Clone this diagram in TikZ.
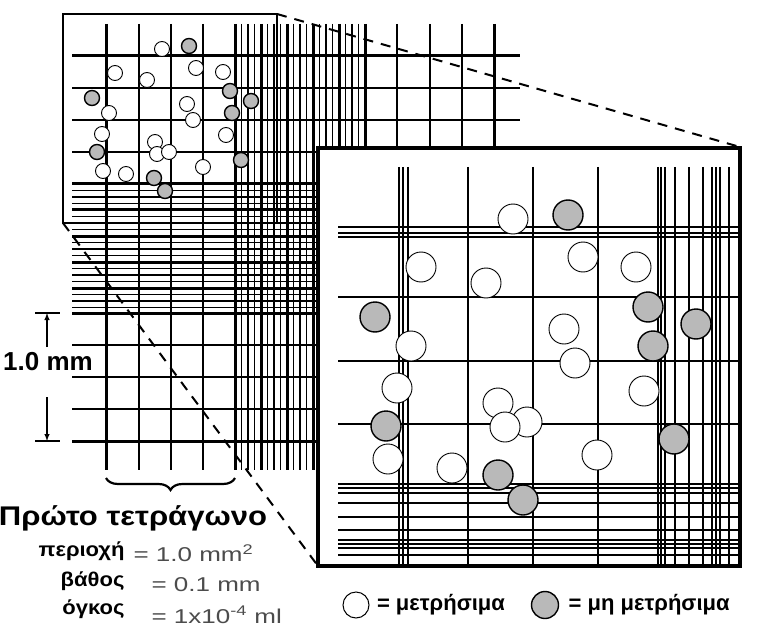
\documentclass[tikz,border=0pt]{standalone}
\usepackage{fontspec}
\usepackage{graphicx}
\setmainfont{Liberation Sans}
\usetikzlibrary{decorations.pathreplacing}
\usetikzlibrary{arrows}

\tikzset{
  thinrule/.style={line width=1.1pt},
  thickrule/.style={line width=3pt},
  cellok/.style={draw, circle, fill=white, line width=0.9pt, inner sep=0pt},
  celldead/.style={draw, circle, fill=gray!55, line width=1.4pt, inner sep=0pt},
  smallcell/.style={minimum size=15pt},
  bigcell/.style={minimum size=30pt},
}

\begin{document}
\begin{tikzpicture}[x=1pt, y=-1pt]
  \useasboundingbox (0,0) rectangle (759,636);

  % Upper horizontal rules
  \draw[thickrule] (72,56) -- (520,56);
  \foreach \yy in {88,120} \draw[thinrule] (72,\yy) -- (520,\yy);
  \draw[thinrule] (72,152) -- (365,152);
  % Dense horizontal band
  \foreach \yy in {184,210,236,262,288,313} \draw[thickrule] (72,\yy) -- (365,\yy);
  \foreach \yy in {184,210,236,262,288} {
    \foreach \dd in {6.5,13,19.5} \draw[thinrule] (72,\yy+\dd) -- (365,\yy+\dd);
  }
  % First square
  \foreach \yy in {345,377,409} \draw[thinrule] (72,\yy) -- (365,\yy);
  \draw[thickrule] (72,441) -- (365,441);

  % Vertical rules
  \foreach \xx in {106,235} \draw[thickrule] (\xx,24) -- (\xx,470);
  \foreach \xx in {139,171,203} \draw[thinrule] (\xx,24) -- (\xx,470);
  \foreach \xx in {261,287,313,339,365} \draw[thickrule] (\xx,24) -- (\xx,470);
  \foreach \xx in {235,261,287,313,339} {
    \foreach \dd in {6.5,13,19.5} \draw[thinrule] (\xx+\dd,24) -- (\xx+\dd,470);
  }
  \foreach \xx in {397,430,462} \draw[thinrule] (\xx,24) -- (\xx,148);
  \draw[thickrule] (494,24) -- (494,148);

  % Small frame and zoom lines
  \coordinate (sTL) at (63,14);
  \coordinate (sTR) at (277,14);
  \coordinate (sBL) at (63,223);
  \draw[line width=2.6pt] (sTL) rectangle (277,223);
  \draw[line width=2pt, dash pattern=on 10pt off 8pt] (sTR) -- (740,147);
  \draw[line width=2pt, dash pattern=on 10pt off 8pt] (sBL) -- (318,566);

  % Cells in the small frame
  \foreach \cx/\cy [count=\i] in {162/49,115/73,147/80,196/68,223/72,187/104,109/113,193/120,102/134,155/142,157/154,169/152,126/174,103/171,203/167,226/135}
    \node[cellok, smallcell] (so\i) at (\cx,\cy) {};
  \foreach \cx/\cy [count=\i] in {189/46,92/98,230/91,251/101,232/113,97/152,241/160,154/178,165/191}
    \node[celldead, smallcell] (sd\i) at (\cx,\cy) {};

  % Zoomed frame
  \draw[line width=3.6pt, fill=white] (318,148) rectangle (740,566);
  \foreach \xx in {399,403,408,468,533,598,658,661,665,675,689,703,712,716,720,729}
    \draw[thinrule] (\xx,167) -- (\xx,565);
  \foreach \yy in {227,233,237,297,361,424,484,488,493,503,517,530,540,544,548,555}
    \draw[thinrule] (338,\yy) -- (738,\yy);

  % Cells in the zoomed frame
  \foreach \cx/\cy [count=\i] in {513/219,421/267,486/283,583/257,636/267,411/346,564/329,575/363,397/388,644/391,498/403,527/422,505/427,388/459,452/468,597/455}
    \node[cellok, bigcell] (bo\i) at (\cx,\cy) {};
  \foreach \cx/\cy [count=\i] in {568/215,375/317,648/307,696/324,653/346,386/426,674/439,498/475,523/500}
    \node[celldead, bigcell] (bd\i) at (\cx,\cy) {};

  % Scale marker
  \coordinate (mTop) at (47,313);
  \coordinate (mBot) at (47,441);
  \draw[line width=1.8pt] (35,313) -- (60,313);
  \draw[line width=1.8pt] (35,441) -- (60,441);
  \node[font=\bfseries\fontsize{26}{28}\selectfont, fill=white, inner sep=1pt] (mm) at (48,362) {1.0 mm};
  \draw[->, >=latex, line width=1.4pt] (47,347) -- (mTop);
  \draw[->, >=latex, line width=1.4pt] (47,397) -- (mBot);

  % Brace and labels
  \draw[decorate, decoration={brace, amplitude=12pt}, line width=2.2pt] (235,478) -- (106,478);
  \node[font=\bfseries\fontsize{27}{29}\selectfont] (first) at (133,518) {\scalebox{1.15}[1]{Πρώτο τετράγωνο}};
  \node[font=\bfseries\fontsize{20}{22}\selectfont, anchor=east] (area) at (128,551) {\scalebox{1.1}[1]{περιοχή}};
  \node[font=\fontsize{20}{22}\selectfont, anchor=west, text=black!70] (areav) at (130,553) {\scalebox{1.3}[1]{= 1.0 mm\textsuperscript{2}}};
  \node[font=\bfseries\fontsize{20}{22}\selectfont, anchor=east] (depth) at (128,581) {\scalebox{1.1}[1]{βάθος}};
  \node[font=\fontsize{20}{22}\selectfont, anchor=west, text=black!70] (depthv) at (148,585) {\scalebox{1.3}[1]{= 0.1 mm}};
  \node[font=\bfseries\fontsize{20}{22}\selectfont, anchor=east] (vol) at (128,609) {\scalebox{1.1}[1]{όγκος}};
  \node[font=\fontsize{20}{22}\selectfont, anchor=west, text=black!70] (volv) at (148,615) {\scalebox{1.3}[1]{= 1x10\textsuperscript{-4} ml}};

  % Legend
  \node[cellok, minimum size=26pt, line width=1pt] (lok) at (356,605) {};
  \node[font=\bfseries\fontsize{22}{24}\selectfont, anchor=west] (lokt) at ([xshift=4pt]lok.east) {= μετρήσιμα};
  \node[celldead, minimum size=27pt] (ldead) at (545,605) {};
  \node[font=\bfseries\fontsize{22}{24}\selectfont, anchor=west] (ldeadt) at ([xshift=6pt]ldead.east) {= μη μετρήσιμα};
\end{tikzpicture}
\end{document}
